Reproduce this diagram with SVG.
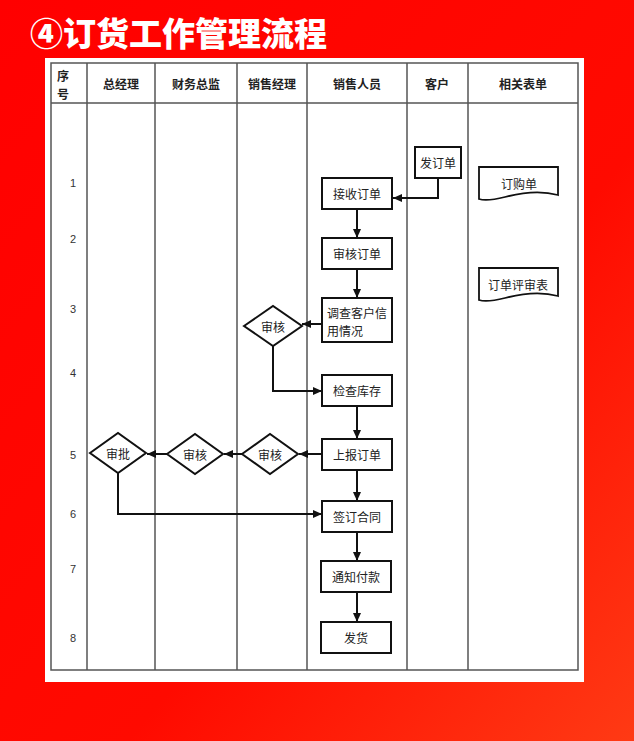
<svg xmlns="http://www.w3.org/2000/svg" width="634" height="741" viewBox="0 0 634 741">
<defs>
<linearGradient id="bg" x1="0" y1="0" x2="1" y2="1">
<stop offset="0" stop-color="#ff0000"/>
<stop offset="0.6" stop-color="#ff0a00"/>
<stop offset="1" stop-color="#ff3a14"/>
</linearGradient>
<marker id="ah" markerWidth="9" markerHeight="8" refX="9" refY="4" orient="auto" markerUnits="userSpaceOnUse">
<path d="M0,0 L9,4 L0,8 Z" fill="#111"/>
</marker>
<style>
.grid{stroke:#555;stroke-width:1.5;fill:none}
.box{fill:#fff;stroke:#111;stroke-width:2}
.doc{fill:#fff;stroke:#111;stroke-width:1.8}
.lbl{font-family:"Noto Sans CJK SC","Noto Sans",sans-serif;font-size:12px;fill:#222;text-anchor:middle;dominant-baseline:central}
.hdr{font-family:"Noto Sans CJK SC","Noto Sans",sans-serif;font-size:12px;font-weight:bold;fill:#222;text-anchor:middle;dominant-baseline:central}
.num{font-family:"Liberation Sans",sans-serif;font-size:11px;fill:#333;text-anchor:middle;dominant-baseline:central}
.con{fill:none;stroke:#111;stroke-width:2;marker-end:url(#ah)}
</style>
</defs>
<rect x="0" y="0" width="634" height="741" fill="url(#bg)"/>
<text x="30" y="46" font-family="'Noto Sans CJK SC',sans-serif" font-size="33" font-weight="900" fill="#fff">④订货工作管理流程</text>
<rect x="45" y="58" width="539" height="624" fill="#fff"/>
<g id="table">
<rect class="grid" x="51" y="63" width="527" height="607"/>
<line class="grid" x1="51" y1="103" x2="578" y2="103"/>
<line class="grid" x1="87" y1="63" x2="87" y2="670"/>
<line class="grid" x1="155" y1="63" x2="155" y2="670"/>
<line class="grid" x1="237" y1="63" x2="237" y2="670"/>
<line class="grid" x1="307" y1="63" x2="307" y2="670"/>
<line class="grid" x1="407" y1="63" x2="407" y2="670"/>
<line class="grid" x1="468" y1="63" x2="468" y2="670"/>
<text class="hdr" x="63" y="75">序</text>
<text class="hdr" x="63" y="93">号</text>
<text class="hdr" x="121" y="83">总经理</text>
<text class="hdr" x="196" y="83">财务总监</text>
<text class="hdr" x="272" y="83">销售经理</text>
<text class="hdr" x="357" y="83">销售人员</text>
<text class="hdr" x="437" y="83">客户</text>
<text class="hdr" x="523" y="83">相关表单</text>
<text class="num" x="73" y="183">1</text>
<text class="num" x="73" y="239">2</text>
<text class="num" x="73" y="309">3</text>
<text class="num" x="73" y="373">4</text>
<text class="num" x="73" y="455">5</text>
<text class="num" x="73" y="514">6</text>
<text class="num" x="73" y="569">7</text>
<text class="num" x="73" y="638">8</text>
</g>
<g id="connectors">
<path class="con" d="M438,178 V198 H393"/>
<path class="con" d="M357,209 V238"/>
<path class="con" d="M357,269 V298"/>
<path class="con" d="M322,324 H302"/>
<path class="con" d="M273,346 V391 H322"/>
<path class="con" d="M357,406 V439"/>
<path class="con" d="M322,454 H299"/>
<path class="con" d="M242,454 H224"/>
<path class="con" d="M167,454 H147"/>
<path class="con" d="M357,470 V501"/>
<path class="con" d="M118,473 V514 H322"/>
<path class="con" d="M357,532 V561"/>
<path class="con" d="M357,592 V622"/>
</g>
<g id="n_fadingdan"><rect class="box" x="415" y="147" width="46" height="31"/><text class="lbl" x="438" y="162.5">发订单</text></g>
<g id="n_jieshou"><rect class="box" x="322" y="178" width="70" height="31"/><text class="lbl" x="357" y="193.5">接收订单</text></g>
<g id="n_shenhedingdan"><rect class="box" x="322" y="238" width="70" height="31"/><text class="lbl" x="357" y="253.5">审核订单</text></g>
<g id="n_diaocha"><rect class="box" x="322" y="298" width="70" height="44"/><text class="lbl" x="327" y="312" style="text-anchor:start">调查客户信</text><text class="lbl" x="327" y="330" style="text-anchor:start">用情况</text></g>
<g id="n_shenhe3"><polygon class="box" points="244,326 273,306 302,326 273,346"/><text class="lbl" x="273" y="326">审核</text></g>
<g id="n_jiancha"><rect class="box" x="322" y="375" width="70" height="31"/><text class="lbl" x="357" y="390.5">检查库存</text></g>
<g id="n_shangbao"><rect class="box" x="322" y="439" width="70" height="31"/><text class="lbl" x="357" y="454.5">上报订单</text></g>
<g id="n_shenhe5a"><polygon class="box" points="242,454 270,434 298,454 270,474"/><text class="lbl" x="270" y="454">审核</text></g>
<g id="n_shenhe5b"><polygon class="box" points="167,454 195,434 223,454 195,474"/><text class="lbl" x="195" y="454">审核</text></g>
<g id="n_shenpi"><polygon class="box" points="90,453 118,433 146,453 118,473"/><text class="lbl" x="118" y="453">审批</text></g>
<g id="n_qianding"><rect class="box" x="322" y="501" width="70" height="31"/><text class="lbl" x="357" y="516.5">签订合同</text></g>
<g id="n_tongzhi"><rect class="box" x="321" y="561" width="70" height="31"/><text class="lbl" x="356" y="576.5">通知付款</text></g>
<g id="n_fahuo"><rect class="box" x="321" y="622" width="70" height="31"/><text class="lbl" x="356" y="637.5">发货</text></g>
<g id="d_dinggou"><path class="doc" d="M479,167 H558 V195 C540,190 520,193 505,197 C493,200 485,201 479,199 Z"/><text class="lbl" x="519" y="183">订购单</text></g>
<g id="d_pingshen"><path class="doc" d="M479,268 H558 V296 C540,291 520,294 505,298 C493,301 485,302 479,300 Z"/><text class="lbl" x="518" y="284">订单评审表</text></g>
</svg>
